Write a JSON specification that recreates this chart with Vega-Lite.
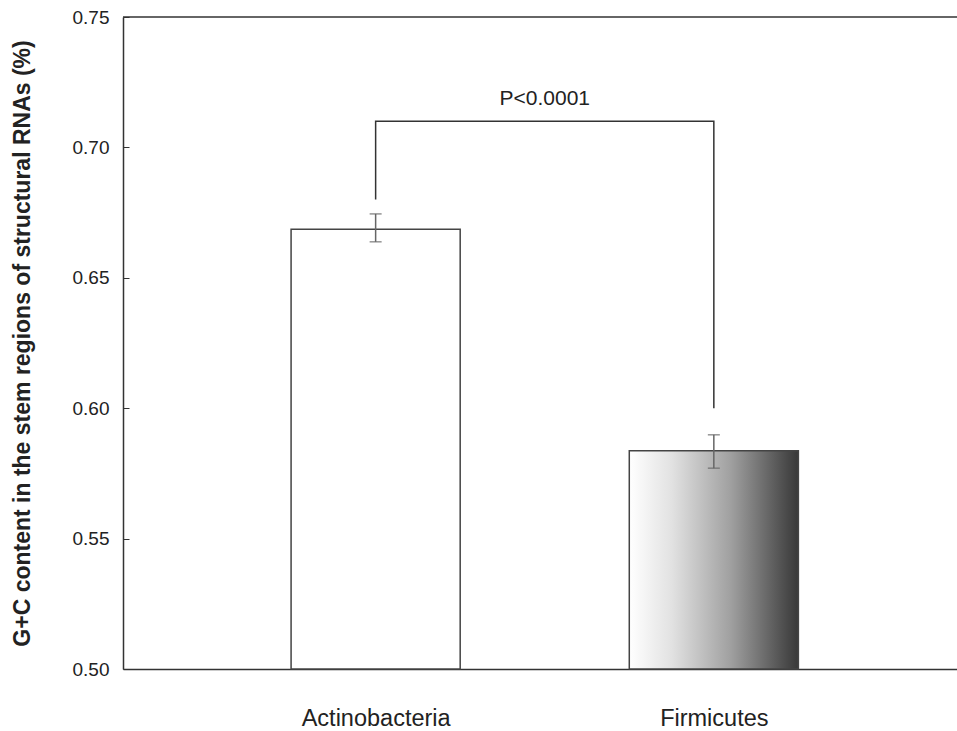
{
  "$schema": "https://vega.github.io/schema/vega-lite/v6.json",
  "autosize": "none",
  "width": 834,
  "height": 652,
  "padding": {"left": 123, "top": 17, "right": 0, "bottom": 62},
  "background": "white",
  "config": {
    "view": {"stroke": null},
    "font": "Liberation Sans",
    "axis": {"grid": false, "domainColor": "#333", "tickColor": "#333", "labelColor": "#222", "titleColor": "#222", "domainWidth": 1.5}
  },
  "datasets": {
    "bars": [
      {"phylum": "Actinobacteria", "x": 0.747, "xlo": 0.497, "xhi": 0.997, "base": 0.5, "mean": 0.6686, "lo": 0.6638, "hi": 0.6745},
      {"phylum": "Firmicutes", "x": 1.747, "xlo": 1.497, "xhi": 1.997, "base": 0.5, "mean": 0.5837, "lo": 0.5770, "hi": 0.5898}
    ],
    "bracket": [
      {"order": 1, "x": 0.747, "y": 0.680},
      {"order": 2, "x": 0.747, "y": 0.710},
      {"order": 3, "x": 1.747, "y": 0.710},
      {"order": 4, "x": 1.747, "y": 0.600}
    ],
    "label": [{"x": 1.247, "y": 0.7163, "text": "P<0.0001"}],
    "top": [{"top": 0.75}]
  },
  "layer": [
    {
      "data": {"name": "bars"},
      "transform": [{"filter": "datum.phylum === 'Actinobacteria'"}],
      "mark": {"type": "rect", "fill": "white", "stroke": "#444", "strokeWidth": 1.5},
      "encoding": {
        "x": {"field": "xlo", "type": "quantitative", "scale": {"domain": [0, 2.466], "nice": false, "zero": false},
          "axis": {"values": [0.747, 1.747], "labelExpr": "datum.value < 1 ? 'Actinobacteria' : 'Firmicutes'", "title": null, "tickSize": -7, "labelPadding": 44, "labelFontSize": 23.5, "labelColor": "#222"}},
        "x2": {"field": "xhi"},
        "y": {"field": "base", "type": "quantitative", "scale": {"domain": [0.5, 0.75], "nice": false, "zero": false},
          "axis": {"values": [0.5, 0.55, 0.6, 0.65, 0.7, 0.75], "format": ".2f", "title": "G+C content in the stem regions of structural RNAs (%)", "titleFontSize": 23, "titleFontWeight": "bold", "titlePadding": 38, "labelFontSize": 19, "tickSize": -6, "labelPadding": 20}},
        "y2": {"field": "mean"}
      }
    },
    {
      "data": {"name": "bars"},
      "transform": [{"filter": "datum.phylum === 'Firmicutes'"}],
      "mark": {"type": "rect", "stroke": "#444", "strokeWidth": 1.5,
        "fill": {"gradient": "linear", "x1": 0, "y1": 0, "x2": 1, "y2": 0,
          "stops": [{"offset": 0, "color": "#ffffff"}, {"offset": 0.25, "color": "#e2e2e2"}, {"offset": 0.6, "color": "#a0a0a0"}, {"offset": 1, "color": "#383838"}]}},
      "encoding": {
        "x": {"field": "xlo", "type": "quantitative"},
        "x2": {"field": "xhi"},
        "y": {"field": "base", "type": "quantitative"},
        "y2": {"field": "mean"}
      }
    },
    {
      "data": {"name": "bars"},
      "mark": {"type": "rule", "color": "#666", "strokeWidth": 1.5},
      "encoding": {
        "x": {"field": "x", "type": "quantitative"},
        "y": {"field": "lo", "type": "quantitative"},
        "y2": {"field": "hi"}
      }
    },
    {
      "data": {"name": "bars"},
      "mark": {"type": "tick", "orient": "horizontal", "color": "#666", "size": 12, "thickness": 1.5},
      "encoding": {
        "x": {"field": "x", "type": "quantitative"},
        "y": {"field": "lo", "type": "quantitative"}
      }
    },
    {
      "data": {"name": "bars"},
      "mark": {"type": "tick", "orient": "horizontal", "color": "#666", "size": 12, "thickness": 1.5},
      "encoding": {
        "x": {"field": "x", "type": "quantitative"},
        "y": {"field": "hi", "type": "quantitative"}
      }
    },
    {
      "data": {"name": "bracket"},
      "mark": {"type": "line", "color": "#333", "strokeWidth": 1.5},
      "encoding": {
        "x": {"field": "x", "type": "quantitative"},
        "y": {"field": "y", "type": "quantitative"},
        "order": {"field": "order", "type": "quantitative"}
      }
    },
    {
      "data": {"name": "label"},
      "mark": {"type": "text", "fontSize": 21, "color": "#222", "baseline": "alphabetic"},
      "encoding": {
        "x": {"field": "x", "type": "quantitative"},
        "y": {"field": "y", "type": "quantitative"},
        "text": {"field": "text", "type": "nominal"}
      }
    },
    {
      "data": {"name": "top"},
      "mark": {"type": "rule", "color": "#333", "strokeWidth": 1.5},
      "encoding": {"y": {"field": "top", "type": "quantitative"}}
    }
  ]
}
